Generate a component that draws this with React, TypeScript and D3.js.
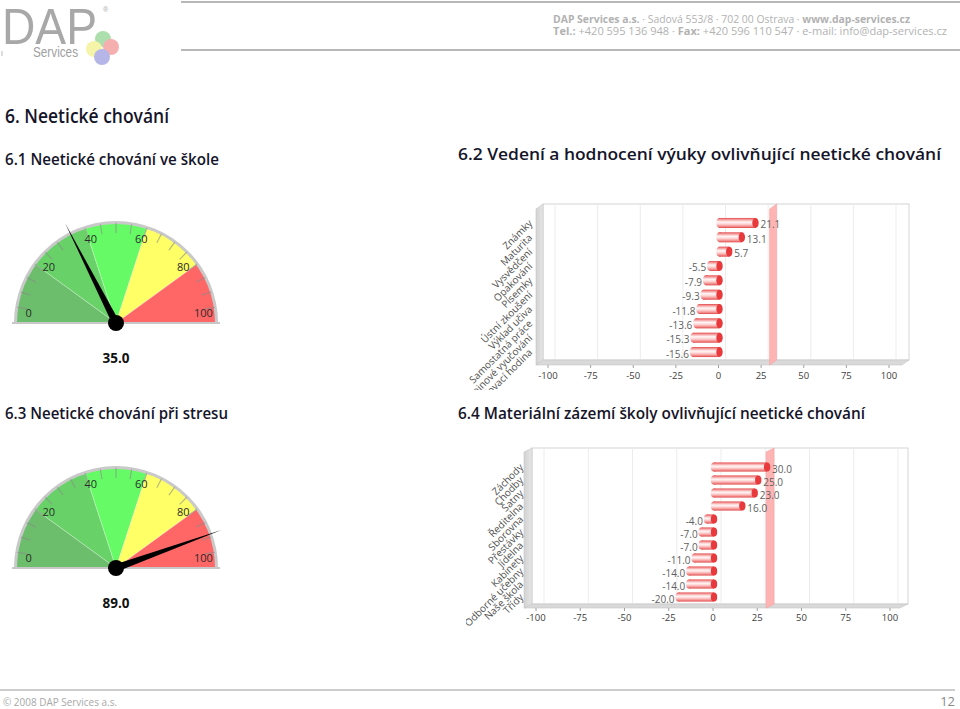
import React from 'react';
import * as d3 from 'd3';

// ---------- data ----------
const gauge1Value = 35.0;
const gauge2Value = 89.0;
const gaugeBreaks = [0, 20, 40, 60, 80, 100];
const gaugeLabels = [0, 20, 40, 60, 80, 100];
const gaugeTicks = [0, 5, 10, 15, 20, 25, 30, 35, 40, 45, 50, 55, 60, 65, 70, 75, 80, 85, 90, 95, 100];

const chart1Categories = ['Známky', 'Maturita', 'Vysvědčení', 'Opakování', 'Písemky', 'Ústní zkoušení', 'Výklad učiva', 'Samostatná práce', 'Skupinové vyučování', 'Procvičovací hodina'];
const chart1Values = [21.1, 13.1, 5.7, -5.5, -7.9, -9.3, -11.8, -13.6, -15.3, -15.6];

const chart2Categories = ['Záchody', 'Chodby', 'Šatny', 'Ředitelna', 'Sborovna', 'Přestávky', 'Jídelna', 'Kabinety', 'Odborné učebny', 'Naše škola', 'Třídy'];
const chart2Values = [30.0, 25.0, 23.0, 16.0, -4.0, -7.0, -7.0, -11.0, -14.0, -14.0, -20.0];

const axisTicks = [-100, -75, -50, -25, 0, 25, 50, 75, 100];
const stripValue = 30;

// ---------- styles ----------
const bandColors = ['#6cbe6c', '#68d268', '#66fb66', '#ffff66', '#ff6666'];
const FONT = "'Open Sans', 'Noto Sans', sans-serif";

function Gauge({ cx, cy, value }: { cx: number; cy: number; value: number }) {
  const R = 100;
  const angle = d3.scaleLinear().domain([0, 100]).range([-Math.PI / 2, Math.PI / 2]);
  const labelAngle = d3.scaleLinear().domain([0, 100]).range([-Math.PI / 2 + 0.12, Math.PI / 2 - 0.12]);
  const arc = d3.arc<any>();
  const pt = (a: number, r: number) => [cx + r * Math.sin(a), cy - r * Math.cos(a)];
  const a = angle(value);
  const tip = pt(a, 112);
  const b1 = pt(a + Math.PI / 2, 3.6);
  const b2 = pt(a - Math.PI / 2, 3.6);
  return (
    <g>
      {gaugeBreaks.slice(0, -1).map((b, i) => (
        <path key={i} transform={`translate(${cx},${cy})`} fill={bandColors[i]}
          d={arc({ innerRadius: 0, outerRadius: R, startAngle: angle(b), endAngle: angle(gaugeBreaks[i + 1]) }) || ''} />
      ))}
      {gaugeBreaks.slice(1, -1).map((b, i) => {
        const p = pt(angle(b), R);
        return <line key={i} x1={cx} y1={cy} x2={p[0]} y2={p[1]} stroke="#ffffff" strokeOpacity={0.35} strokeWidth={1} />;
      })}
      <path transform={`translate(${cx},${cy})`} fill="#c9c9c9"
        d={arc({ innerRadius: R - 1, outerRadius: R + 2, startAngle: angle(0), endAngle: angle(100) }) || ''} />
      {gaugeTicks.map((t) => {
        const p1 = pt(angle(t), R - 10);
        const p2 = pt(angle(t), R);
        return <line key={t} x1={p1[0]} y1={p1[1]} x2={p2[0]} y2={p2[1]} stroke="#8a8a8a" strokeOpacity={0.6} strokeWidth={1.2} />;
      })}
      <line x1={cx - R - 4} x2={cx + R + 4} y1={cy} y2={cy} stroke="#c8c8c8" strokeWidth={2} />
      {gaugeLabels.map((l) => {
        const p = pt(labelAngle(l), 88);
        return <text key={l} x={p[0]} y={p[1]} textAnchor="middle" dominantBaseline="central"
          fontFamily={FONT} fontSize={11} fill="#2a2a2a">{l}</text>;
      })}
      <polygon points={`${tip[0]},${tip[1]} ${b1[0]},${b1[1]} ${b2[0]},${b2[1]}`} fill="#000" />
      <circle cx={cx} cy={cy} r={8} fill="#000" />
      <text x={cx} y={cy + 40} textAnchor="middle" fontFamily={FONT} fontWeight={700} fontSize={13.5} fill="#111">
        {value.toFixed(1)}
      </text>
    </g>
  );
}

type BarProps = {
  id: string;
  cats: string[];
  values: number[];
  xRange: [number, number];
  top: number;
  floor: number;
  left: number;
  right: number;
  dx: number;
  dy: number;
  rows: [number, number];
  labelX: number;
  tickY: number;
  clip: [number, number, number, number];
};

function BarChart3D(p: BarProps) {
  const x = d3.scaleLinear().domain([-100, 100]).range(p.xRange);
  const y = d3.scaleBand<string>().domain(p.cats).range(p.rows).paddingInner(0.3).paddingOuter(0.15);
  const bw = y.bandwidth();
  const floorFront = p.floor + p.dy;
  const backLeft = p.left + p.dx;
  const sx = x(stripValue);
  return (
    <g>
      <defs>
        <linearGradient id={`${p.id}-bar`} x1="0" y1="0" x2="0" y2="1">
          <stop offset="0%" stopColor="#e24a4a" />
          <stop offset="16%" stopColor="#f59a9a" />
          <stop offset="40%" stopColor="#fff6f6" />
          <stop offset="60%" stopColor="#ffd6d6" />
          <stop offset="84%" stopColor="#f38e8e" />
          <stop offset="100%" stopColor="#e04444" />
        </linearGradient>
        <linearGradient id={`${p.id}-wall`} x1="0" y1="0" x2="1" y2="0">
          <stop offset="0%" stopColor="#d2d2d2" />
          <stop offset="100%" stopColor="#e6e6e6" />
        </linearGradient>
        <clipPath id={`${p.id}-clip`}>
          <rect x={p.clip[0]} y={p.clip[1]} width={p.clip[2]} height={p.clip[3]} />
        </clipPath>
      </defs>
      {/* back wall */}
      <rect x={backLeft} y={p.top} width={p.right - backLeft} height={p.floor - p.top} fill="#fff" stroke="#d4d4d4" strokeWidth={1} />
      {axisTicks.map((t) => (
        <line key={t} x1={x(t) + p.dx} x2={x(t) + p.dx} y1={p.top} y2={p.floor} stroke="#ececec" strokeWidth={1} />
      ))}
      {/* left wall */}
      <polygon points={`${p.left},${p.top + p.dy} ${backLeft},${p.top} ${backLeft},${p.floor} ${p.left},${floorFront}`}
        fill={`url(#${p.id}-wall)`} stroke="#c8c8c8" strokeWidth={0.6} />
      {/* floor */}
      <polygon points={`${p.left},${floorFront} ${backLeft},${p.floor} ${p.right},${p.floor} ${p.right - p.dx},${floorFront}`}
        fill="#d9d9d9" stroke="#c8c8c8" strokeWidth={0.6} />
      {/* strip line */}
      <polygon points={`${sx},${floorFront} ${sx},${p.top + p.dy} ${sx + p.dx},${p.top} ${sx + p.dx},${p.floor}`}
        fill="#ffb4b4" stroke="#f4a0a0" strokeWidth={0.6} />
      {/* bars */}
      {p.values.map((v, i) => {
        const yc = (y(p.cats[i]) as number) + bw / 2;
        const x0 = Math.min(x(v), x(0)) + 1;
        const x1 = Math.max(x(v), x(0)) + 1;
        const rx = 3.2;
        return (
          <g key={i}>
            <ellipse cx={x0} cy={yc} rx={rx} ry={bw / 2} fill={`url(#${p.id}-bar)`} />
            <rect x={x0} y={yc - bw / 2} width={x1 - x0} height={bw} fill={`url(#${p.id}-bar)`} />
            <ellipse cx={x1} cy={yc} rx={rx} ry={bw / 2} fill="#e83a3c" />
            <text x={v >= 0 ? x(v) + 6 : x(v) - 3} y={yc + 1.5} dominantBaseline="central"
              textAnchor={v >= 0 ? 'start' : 'end'} fontFamily={FONT} fontSize={10} fill="#606060">
              {v.toFixed(1)}
            </text>
          </g>
        );
      })}
      {/* axis */}
      {axisTicks.map((t) => (
        <g key={t}>
          <line x1={x(t)} x2={x(t)} y1={floorFront} y2={floorFront + 3} stroke="#a0a0a0" />
          <text x={x(t)} y={p.tickY} textAnchor="middle" dominantBaseline="central" fontFamily={FONT} fontSize={9.5} fill="#404040">
            {t}
          </text>
        </g>
      ))}
      {/* category labels */}
      <g clipPath={`url(#${p.id}-clip)`}>
        {p.cats.map((c) => {
          const yc = (y(c) as number) + bw / 2;
          return (
            <text key={c} x={p.labelX} y={yc + 1} textAnchor="end" transform={`rotate(-45, ${p.labelX}, ${yc + 1})`}
              fontFamily={FONT} fontSize={10} fill="#505050">{c}</text>
          );
        })}
      </g>
    </g>
  );
}

export default function App() {
  const titleColor = '#15152a';
  const grey = '#b2b2b2';
  return (
    <svg width={960} height={709} viewBox="0 0 960 709" style={{ position: 'absolute', left: 0, top: 0, background: '#fff' }}>
      {/* header logo */}
      <text x={2} y={44} fontFamily="'Liberation Sans', Arial, sans-serif" fontSize={50} fill="#a8a8a8" textLength={95} lengthAdjust="spacingAndGlyphs">DAP</text>
      <text x={103} y={12} fontFamily="'Liberation Sans', sans-serif" fontSize={7} fill="#a8a8a8">®</text>
      <text x={33} y={57} fontFamily="'Liberation Sans', Arial, sans-serif" fontSize={14} fill="#a0a0a0" textLength={45} lengthAdjust="spacingAndGlyphs">Services</text>
      <line x1={2} x2={2} y1={51} y2={56} stroke="#bbb" />
      <g opacity={0.85}>
        <circle cx={103} cy={39} r={8} fill="#9fd9a0" />
        <circle cx={111} cy={47} r={8} fill="#f5a2a2" />
        <circle cx={94} cy={49} r={8} fill="#f4f39a" />
        <circle cx={102} cy={57} r={8} fill="#a9aae3" />
      </g>
      <line x1={181} x2={960} y1={2} y2={2} stroke="#b8b8b8" strokeWidth={2} />
      <line x1={181} x2={960} y1={50} y2={50} stroke="#b8b8b8" strokeWidth={2} />
      <text x={553} y={22.5} fontFamily={FONT} fontSize={10.5} fill={grey} textLength={357} lengthAdjust="spacingAndGlyphs">
        <tspan fontWeight={700}>DAP Services a.s.</tspan>  ·  Sadová 553/8  ·  702 00 Ostrava  ·  <tspan fontWeight={700}>www.dap-services.cz</tspan>
      </text>
      <text x={553} y={35} fontFamily={FONT} fontSize={10.5} fill={grey} textLength={394} lengthAdjust="spacingAndGlyphs">
        <tspan fontWeight={700}>Tel.:</tspan>  +420 595 136 948   ·   <tspan fontWeight={700}>Fax:</tspan>  +420 596 110 547   ·   e-mail: info@dap-services.cz
      </text>

      {/* titles */}
      <text x={5} y={123} fontFamily={FONT} fontWeight={600} fontSize={19} fill={titleColor} textLength={164} lengthAdjust="spacingAndGlyphs">6. Neetické chování</text>
      <text x={5} y={165} fontFamily={FONT} fontWeight={600} fontSize={16} fill={titleColor} textLength={214} lengthAdjust="spacingAndGlyphs">6.1 Neetické chování ve škole</text>
      <text x={458} y={160} fontFamily={FONT} fontWeight={600} fontSize={16} fill={titleColor} textLength={483} lengthAdjust="spacingAndGlyphs">6.2 Vedení a hodnocení výuky ovlivňující neetické chování</text>
      <text x={5} y={419} fontFamily={FONT} fontWeight={600} fontSize={16} fill={titleColor} textLength={223} lengthAdjust="spacingAndGlyphs">6.3 Neetické chování při stresu</text>
      <text x={458} y={419} fontFamily={FONT} fontWeight={600} fontSize={16} fill={titleColor} textLength={407} lengthAdjust="spacingAndGlyphs">6.4 Materiální zázemí školy ovlivňující neetické chování</text>

      <Gauge cx={116} cy={323} value={gauge1Value} />
      <Gauge cx={116} cy={568} value={gauge2Value} />

      <BarChart3D id="c1" cats={chart1Categories} values={chart1Values} xRange={[548, 889]} top={204} floor={360}
        left={536} right={909} dx={7} dy={5} rows={[215.8, 359.2]} labelX={533} tickY={375} clip={[466, 190, 90, 200]} />
      <BarChart3D id="c2" cats={chart2Categories} values={chart2Values} xRange={[536, 890]} top={448} floor={604}
        left={524} right={908} dx={8} dy={4} rows={[460.5, 603.5]} labelX={524} tickY={617} clip={[466, 430, 90, 200]} />

      {/* footer */}
      <line x1={0} x2={955} y1={690} y2={690} stroke="#bdbdbd" strokeWidth={1.5} />
      <text x={3} y={705.5} fontFamily={FONT} fontSize={11} fill="#a8a8a8" textLength={114} lengthAdjust="spacingAndGlyphs">© 2008 DAP Services a.s.</text>
      <text x={955} y={706} textAnchor="end" fontFamily={FONT} fontSize={13} fill="#8a8a8a">12</text>
    </svg>
  );
}
